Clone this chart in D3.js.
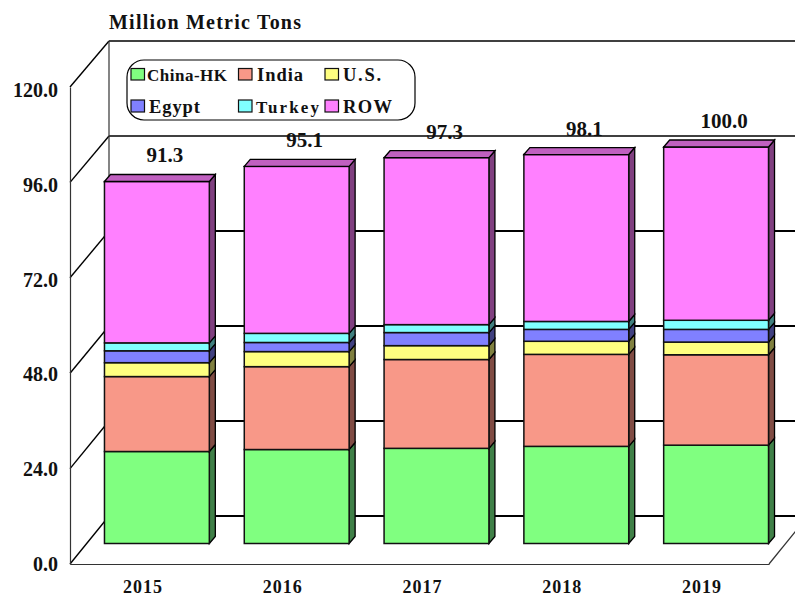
<!DOCTYPE html>
<html><head><meta charset="utf-8">
<script src="https://cdn.jsdelivr.net/npm/d3@7"></script>
<style>html,body{margin:0;background:#fff}svg{display:block}text{font-family:"Liberation Serif",serif;font-weight:bold;fill:#111}</style>
</head><body><div id="c"></div>
<script>
const years=["2015","2016","2017","2018","2019"];
const seriesNames=["China-HK","India","U.S.","Egypt","Turkey","ROW"];
const chinaHK=[23.2,23.7,24.0,24.5,24.8];
const india=[18.9,20.9,22.4,23.2,22.8];
const us=[3.5,3.8,3.5,3.3,3.2];
const egypt=[3.0,2.3,3.3,3.0,3.2];
const turkey=[2.0,2.3,2.0,2.0,2.3];
const row=[40.7,42.1,42.1,42.1,43.7];
const totals=["91.3","95.1","97.3","98.1","100.0"];
const yTicks=[0,24,48,72,96,120];
const fills=["#80ff80","#f89888","#ffff80","#8080ff","#80ffff","#ff80ff"];
const sides=["#408048","#804c44","#808040","#404080","#408080","#804080"];
const topFace="#c060c0";
const allSeries=[chinaHK,india,us,egypt,turkey,row];

const W=795,H=596,x0=70,x1=769,y0=564,y120=87,dx=39,barDx=17,dpX=6,dpY=7;
const svg=d3.select("#c").append("svg").attr("width",W).attr("height",H);
const y=d3.scaleLinear().domain([0,120]).range([y0,y120]);
const yBack=d3.scaleLinear().domain([0,120]).range([516,41]);
const yBar=d3.scaleLinear().domain([0,120]).range([543.5,67.7]);
const xAxisBand=d3.scaleBand().domain(years).range([x0,x1]);
const xBar=d3.scaleBand().domain(years).range([x0+barDx,x1+barDx]).paddingInner(.25).paddingOuter(.125);

const g=svg.append("g");
yTicks.forEach(t=>{
  g.append("line").attr("x1",x0+dx).attr("x2",W).attr("y1",yBack(t)).attr("y2",yBack(t)).attr("stroke","#000").attr("stroke-width",t>=96?1.5:2);
  g.append("line").attr("x1",x0).attr("x2",x0+dx).attr("y1",y(t)).attr("y2",yBack(t)).attr("stroke","#000").attr("stroke-width",1.4);
});
g.append("line").attr("x1",x0+dx).attr("x2",x0+dx).attr("y1",yBack(120)).attr("y2",yBack(0)).attr("stroke","#333").attr("stroke-width",1.2);
g.append("path").attr("d",`M${x1},${y0}L${x1+dx},${yBack(0)}`).attr("fill","none").attr("stroke","#333").attr("stroke-width",1.2);

const yAxis=svg.append("g").attr("transform",`translate(${x0},0)`)
  .call(d3.axisLeft(y).tickValues(yTicks).tickSize(0).tickPadding(12).tickFormat(d3.format(".1f")));
yAxis.select(".domain").attr("stroke","#333").attr("stroke-width",1.2);
yAxis.selectAll("text").attr("font-size",20).attr("font-family",null)
  .attr("dy",d=>(6.5+d/40)+"px");
const xAxis=svg.append("g").attr("transform",`translate(0,${y0})`)
  .call(d3.axisBottom(xAxisBand).tickSize(0).tickPadding(16));
xAxis.select(".domain").attr("stroke","#333").attr("stroke-width",1.2);
xAxis.selectAll("text").attr("font-size",18).attr("font-family",null).attr("dx",3).style("letter-spacing","1px");

years.forEach((yr,i)=>{
  const b=svg.append("g");
  const L=xBar(yr),R=L+xBar.bandwidth();
  let cum=0;
  allSeries.forEach((s,k)=>{
    const a=yBar(cum),t=yBar(cum+s[i]);cum+=s[i];
    b.append("path").attr("d",`M${R},${a}L${R+dpX},${a-dpY}L${R+dpX},${t-dpY}L${R},${t}Z`)
      .attr("fill",sides[k]).attr("stroke","#000").attr("stroke-width",1.3);
    b.append("rect").attr("x",L).attr("y",t).attr("width",R-L).attr("height",a-t)
      .attr("fill",fills[k]).attr("stroke","#111").attr("stroke-width",1.5);
  });
  const t=yBar(cum);
  b.append("path").attr("d",`M${L},${t}L${L+dpX},${t-dpY}L${R+dpX},${t-dpY}L${R},${t}Z`)
    .attr("fill",topFace).attr("stroke","#000").attr("stroke-width",1.3);
  svg.append("text").attr("x",(L+R)/2+8).attr("y",t-19).attr("text-anchor","middle")
    .attr("font-size",21).text(totals[i]);
});

svg.append("text").attr("x",109).attr("y",29.3).attr("font-size",20).attr("textLength",192).attr("lengthAdjust","spacing").text("Million Metric Tons");

svg.append("rect").attr("x",127).attr("y",60).attr("width",288).attr("height",60).attr("rx",17).attr("ry",17)
  .attr("fill","#fff").attr("stroke","#000").attr("stroke-width",1.2);
const legendCols=[131,238.5,325];
const legendTextX=[[147,257,343],[149,256,343]];
const legendTextW=[[80,46,38],[51,63,49]];
const legendRowsY=[[68.5,80],[100,112]];
const legendBase=[80.5,113];
seriesNames.forEach((n,k)=>{
  const r=Math.floor(k/3),c=k%3;
  svg.append("rect").attr("x",legendCols[c]).attr("y",legendRowsY[r][0]).attr("width",13.5).attr("height",legendRowsY[r][1]-legendRowsY[r][0])
    .attr("fill",fills[k]).attr("stroke","#111").attr("stroke-width",1.2);
  svg.append("text").attr("x",legendTextX[r][c]).attr("y",legendBase[r]).attr("font-size",(n==="China-HK"||n==="Turkey")?17:18.5)
    .attr("textLength",legendTextW[r][c]).attr("lengthAdjust","spacing").text(n);
});
</script></body></html>
